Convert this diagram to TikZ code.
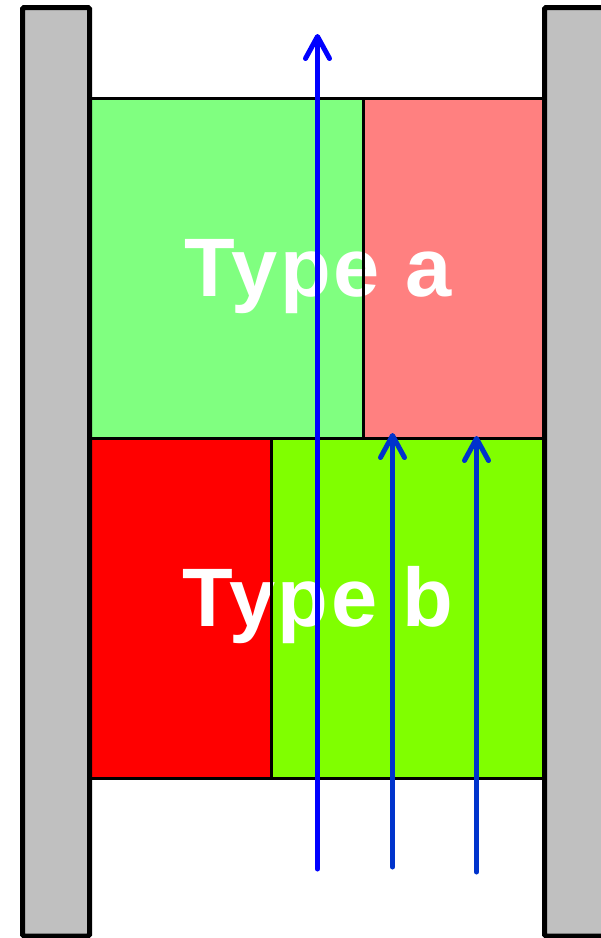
\documentclass[tikz,border=0pt]{standalone}
\usepackage{fontspec}
\setmainfont{Liberation Sans}
\newfontfamily\labelfont{Liberation Sans}[LetterSpace=3]
\usetikzlibrary{arrows.meta}
\definecolor{bargray}{RGB}{192,192,192}
\definecolor{lgreen}{RGB}{128,255,128}
\definecolor{lred}{RGB}{255,128,128}
\definecolor{fred}{RGB}{255,0,0}
\definecolor{ygreen}{RGB}{128,255,0}
\definecolor{pblue}{RGB}{0,0,255}
\definecolor{dblue}{RGB}{0,51,204}
\tikzset{
  wall/.style={draw=black, fill=bargray, line width=5pt, rounded corners=1.5pt},
  cell/.style={line width=3pt},
  label/.style={text=white, font=\labelfont\bfseries\fontsize{83}{83}\selectfont, anchor=base, inner sep=0pt},
  flow/.style={line width=5pt, line cap=round, -{Straight Barb[round, length=22pt, width=24pt, line width=5pt]}}
}
\begin{document}
\begin{tikzpicture}[x=1pt, y=-1pt]
\useasboundingbox (0,0) rectangle (601,938);
% fills
\fill[lgreen] (89.5,98.5) rectangle (363.5,438.5);
\fill[lred] (363.5,98.5) rectangle (544.5,438.5);
\fill[fred] (89.5,438.5) rectangle (271.5,778.5);
\fill[ygreen] (271.5,438.5) rectangle (544.5,778.5);
% labels
\node[label] (ta) at (318,296) {Type a};
\node[label] (tb) at (318,626) {Type b};
% cell borders
\draw[cell] (89.5,98.5) rectangle (363.5,438.5);
\draw[cell] (363.5,98.5) rectangle (544.5,438.5);
\draw[cell] (89.5,438.5) rectangle (271.5,778.5);
\draw[cell] (271.5,438.5) rectangle (544.5,778.5);
% walls
\draw[wall] (22.5,7.5) rectangle (89.5,936);
\draw[wall] (544.5,7.5) rectangle (640,936);
% arrows
\coordinate (s1) at (317.5,869);
\coordinate (e1) at (317.5,34);
\coordinate (s2) at (392.5,867);
\coordinate (e2) at (392.5,433);
\coordinate (s3) at (476.5,872);
\coordinate (e3) at (476.5,436);
\draw[flow, pblue] (s1) -- (e1);
\draw[flow, dblue] (s2) -- (e2);
\draw[flow, dblue] (s3) -- (e3);
\end{tikzpicture}
\end{document}
